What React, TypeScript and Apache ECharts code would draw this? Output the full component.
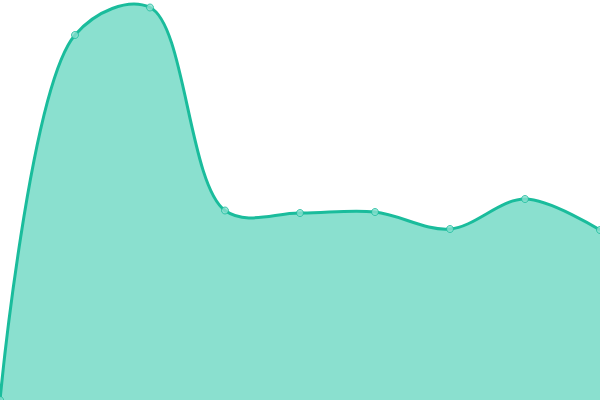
import React, { useEffect, useRef } from "react";
import * as echarts from "echarts";

const categories = ["A", "B", "C", "D", "E", "F", "G", "H", "I"];
const values = [0, 365, 392.5, 189.5, 187, 188, 171, 201, 170];

const LINE = "#1abc9c";
const FILL = "#8ae0cf";

type P = [number, number];

// Catmull-Rom (centripetal, alpha 0.5) path through pixel points
function catmullRomPath(pts: P[]): string {
  const alpha = 0.5;
  const eps = 1e-12;
  let d = `M${pts[0][0]},${pts[0][1]}`;
  for (let i = 0; i < pts.length - 1; i++) {
    const p0 = pts[i - 1] || pts[i];
    const p1 = pts[i];
    const p2 = pts[i + 1];
    const p3 = pts[i + 2] || pts[i + 1];
    const dist = (a: P, b: P) => Math.hypot(b[0] - a[0], b[1] - a[1]);
    const l01 = i === 0 ? 0 : dist(p0, p1);
    const l12 = dist(p1, p2);
    const l23 = i + 2 >= pts.length ? 0 : dist(p2, p3);
    const l01a = Math.pow(l01, alpha), l01_2a = Math.pow(l01, 2 * alpha);
    const l12a = Math.pow(l12, alpha), l12_2a = Math.pow(l12, 2 * alpha);
    const l23a = Math.pow(l23, alpha), l23_2a = Math.pow(l23, 2 * alpha);
    let x1 = p1[0], y1 = p1[1], x2 = p2[0], y2 = p2[1];
    if (l01a > eps) {
      const a = 2 * l01_2a + 3 * l01a * l12a + l12_2a;
      const n = 3 * l01a * (l01a + l12a);
      x1 = (x1 * a - p0[0] * l12_2a + p2[0] * l01_2a) / n;
      y1 = (y1 * a - p0[1] * l12_2a + p2[1] * l01_2a) / n;
    }
    if (l23a > eps) {
      const b = 2 * l23_2a + 3 * l23a * l12a + l12_2a;
      const m = 3 * l23a * (l23a + l12a);
      x2 = (x2 * b + p1[0] * l23_2a - p3[0] * l12_2a) / m;
      y2 = (y2 * b + p1[1] * l23_2a - p3[1] * l12_2a) / m;
    }
    d += `C${x1},${y1},${x2},${y2},${p2[0]},${p2[1]}`;
  }
  return d;
}

export default function App() {
  const ref = useRef<HTMLDivElement>(null);
  useEffect(() => {
    document.body.style.margin = "0";
    const chart = echarts.init(ref.current!, null, { renderer: "svg" });
    chart.setOption({
      animation: false,
      grid: { left: 0, right: 0, top: 0, bottom: 0 },
      xAxis: {
        type: "category",
        data: categories,
        boundaryGap: false,
        show: false,
      },
      yAxis: { type: "value", min: 0, max: 400, show: false },
      series: [
        {
          type: "custom",
          data: values.map((v, i) => [i, v]),
          clip: true,
          renderItem: (params: any, api: any) => {
            if (params.dataIndex !== 0) return null;
            const pts: P[] = values.map((v, i) => api.coord([i, v]) as P);
            const base0 = api.coord([0, 0]);
            const baseN = api.coord([values.length - 1, 0]);
            const curve = catmullRomPath(pts);
            const area =
              curve +
              `L${baseN[0]},${baseN[1]}L${base0[0]},${base0[1]}Z`;
            return {
              type: "group",
              children: [
                {
                  type: "path",
                  shape: { pathData: area },
                  style: { fill: FILL, stroke: "none" },
                },
                {
                  type: "path",
                  shape: { pathData: curve },
                  style: { fill: "none", stroke: LINE, lineWidth: 3 },
                },
              ],
            };
          },
        },
        {
          type: "scatter",
          data: values.map((v, i) => [i, v]),
          symbol: "circle",
          symbolSize: 7,
          itemStyle: { color: FILL, borderColor: LINE, borderWidth: 1 },
          z: 5,
        },
      ],
    });
    return () => chart.dispose();
  }, []);
  return (
    <div
      ref={ref}
      style={{ position: "fixed", left: 0, top: 0, width: 600, height: 400 }}
    />
  );
}
